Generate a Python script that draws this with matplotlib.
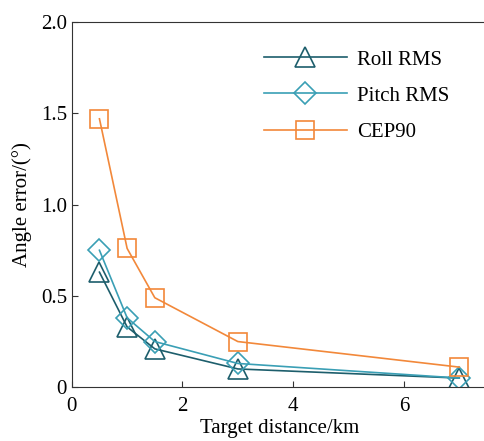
import numpy as np
import matplotlib.pyplot as plt

plt.rcParams['font.family'] = ['Liberation Serif', 'DejaVu Serif']

distance = [0.5, 1.0, 1.5, 3.0, 7.0]
roll_rms = [0.63, 0.33, 0.21, 0.10, 0.05]
pitch_rms = [0.75, 0.38, 0.25, 0.13, 0.05]
cep90 = [1.47, 0.76, 0.49, 0.25, 0.11]

fig = plt.figure(figsize=(4.85, 4.41), dpi=100)
ax = fig.add_axes([0.148, 0.122, 0.856, 0.828])

ax.plot(distance, roll_rms, color='#1d5e6c', marker='^', markersize=15,
        fillstyle='none', markeredgewidth=1.2, linewidth=1.2, label='Roll RMS')
ax.plot(distance, pitch_rms, color='#3a9fb5', marker='D', markersize=11,
        fillstyle='none', markeredgewidth=1.2, linewidth=1.2, label='Pitch RMS')
ax.plot(distance, cep90, color='#f2883a', marker='s', markersize=13,
        fillstyle='none', markeredgewidth=1.2, linewidth=1.2, label='CEP90')

ax.set_xlim(0, 7.5)
ax.set_ylim(0, 2.0)
ax.set_xticks([0, 2, 4, 6])
ax.set_yticks([0, 0.5, 1.0, 1.5, 2.0])
ax.set_yticklabels(['0', '0.5', '1.0', '1.5', '2.0'])
ax.tick_params(direction='in', labelsize=15, length=4, color='#333333')
ax.tick_params(axis='x', pad=7)
for s in ax.spines.values():
    s.set_color('#333333')

ax.set_xlabel('Target distance/km', fontsize=15, labelpad=2)
ax.set_ylabel('Angle error/(°)', fontsize=15, labelpad=6)

ax.legend(loc='upper right', frameon=False, fontsize=15, handlelength=4.0,
          handletextpad=0.5, bbox_to_anchor=(0.955, 0.975), labelspacing=0.8)

fig.savefig('out.png', dpi=100)
